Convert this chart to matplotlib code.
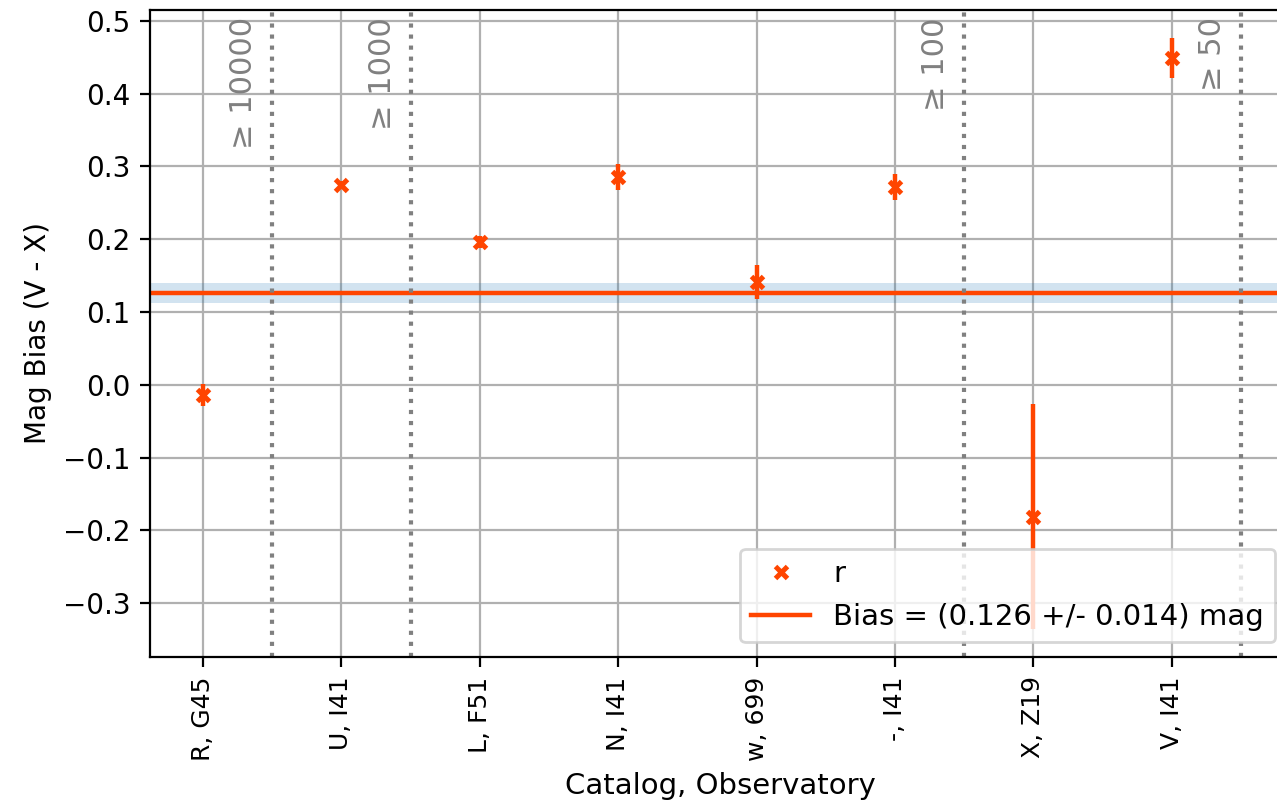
import matplotlib
matplotlib.use("Agg")
import matplotlib.pyplot as plt

labels = ["R, G45", "U, I41", "L, F51", "N, I41", "w, 699", "-, I41", "X, Z19", "V, I41"]
values = [-0.014, 0.275, 0.196, 0.286, 0.141, 0.272, -0.181, 0.449]
errors = [0.015, 0.005, 0.008, 0.018, 0.023, 0.018, 0.155, 0.028]
bias = 0.126
bias_err = 0.014
sep_pos = [0.5, 1.5, 5.5, 7.5]
sep_text = ["≥ 10000", "≥ 1000", "≥ 100", "≥ 50"]

color = "#FF4500"

fig = plt.figure(figsize=(1277/200, 801/200), dpi=200)
ax = fig.add_axes([150/1277, 1-657/801, (1290-150)/1277, (657-10)/801])

x = list(range(len(labels)))
ax.grid(True, color="#b0b0b0", linewidth=0.8, zorder=0)
ax.set_axisbelow(True)
ax.axhspan(bias - bias_err, bias + bias_err, color="tab:blue", alpha=0.2, lw=0, zorder=1)
ax.errorbar(x, values, yerr=errors, fmt="none", ecolor=color, elinewidth=1.6,
            capsize=0, zorder=3)
ax.plot(x, values, "x", color=color, ms=4.5, mew=1.8, label="r", zorder=4)
ax.axhline(bias, color=color, lw=1.6, label=f"Bias = ({bias:.3f} +/- {bias_err:.3f}) mag", zorder=2)

for p, t in zip(sep_pos, sep_text):
    ax.axvline(p, color="gray", ls=":", lw=1.5, zorder=2)
    ax.text(p - 0.1, 0.505, t, rotation=90, ha="right", va="top", color="gray", fontsize=11)

ax.set_xticks(x)
ax.set_xticklabels(labels, rotation=90, fontsize=9)
ax.set_xlim(-0.383, 7.854)
ax.set_ylim(-0.374, 0.515)
ax.set_xlabel("Catalog, Observatory", fontsize=10.5)
ax.set_ylabel("Mag Bias (V - X)", fontsize=10)
ax.tick_params(axis="y", labelsize=10)
ax.legend(loc="lower right", fontsize=10.5)

fig.savefig("out.png", dpi=200)
